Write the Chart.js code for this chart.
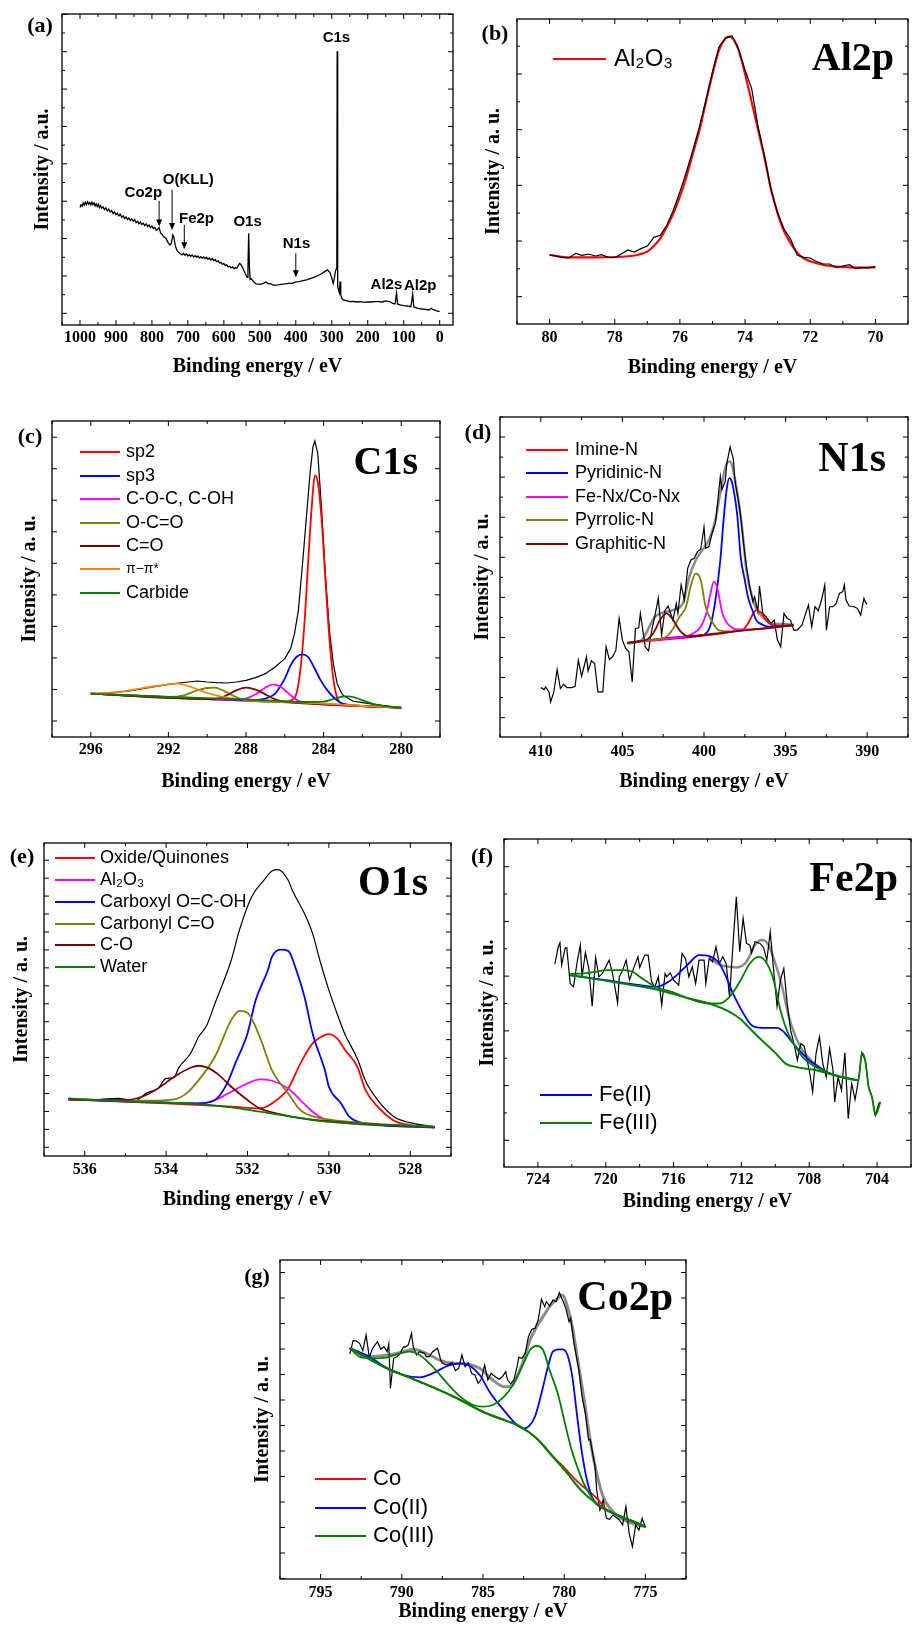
<!DOCTYPE html>
<html>
<head>
<meta charset="utf-8">
<script src="https://cdn.jsdelivr.net/npm/chart.js@4.4.1/dist/chart.umd.min.js"></script>
<style>
  html, body { margin: 0; padding: 0; background: #fff; }
  #page { position: relative; width: 912px; height: 1625px; overflow: hidden; background: #fff; }
  #page canvas { position: absolute; }
</style>
</head>
<body>
<div id="page"></div>
<script>
// ---- data (binding energy in eV, intensity in arbitrary units) ----
const surveyTicks = [0, 100, 200, 300, 400, 500, 600, 700, 800, 900, 1000];
const surveyCounts = [[1000,352],[997,360],[994,356],[991,366],[988,360],[985,368],[982,361],[979,369],[976,362],[973,367],[970,360],[967,368],[964,361],[961,366],[958,357],[955,363],[952,355],[949,362],[946,352],[943,358],[940,350],[936,354],[932,346],[928,351],[924,342],[920,347],[916,339],[912,343],[908,334],[904,339],[900,331],[896,335],[892,327],[888,332],[884,323],[880,327],[876,319],[872,324],[868,316],[864,321],[860,313],[856,318],[852,311],[848,316],[844,307],[840,311],[836,303],[832,309],[828,301],[824,305],[820,298],[816,303],[812,295],[808,300],[804,292],[800,297],[796,289],[792,293],[788,284],[784,287],[780,292],[776,276],[772,272],[768,265],[764,262],[760,258],[755,247],[750,240],[746,245],[742,270],[739,263],[735,237],[730,223],[725,217],[720,213],[716,210],[712,215],[708,209],[704,213],[700,207],[696,211],[692,206],[688,210],[684,204],[680,208],[676,203],[672,207],[668,201],[664,205],[660,200],[656,204],[652,199],[648,203],[644,197],[640,201],[636,195],[632,199],[628,193],[624,196],[620,190],[616,192],[612,186],[608,188],[604,182],[600,184],[596,178],[592,180],[588,174],[584,176],[580,171],[576,174],[572,169],[568,172],[564,170],[560,178],[556,185],[552,180],[548,172],[545,165],[540,153],[535,143],[533,175],[531,275],[529,175],[527,137],[524,139],[520,133],[515,127],[510,123],[500,122],[490,125],[484,129],[478,125],[470,123],[460,119],[450,120],[440,122],[430,123],[420,125],[410,125],[400,129],[390,130],[380,133],[370,135],[360,139],[350,143],[340,147],[330,153],[320,160],[312,165],[305,157],[300,140],[296,125],[293,140],[290,160],[288,167],[286,195],[285,820],[284.2,300],[283.5,130],[283,115],[281,105],[279,97],[277,130],[275,90],[272,80],[268,75],[260,73],[250,70],[240,71],[230,69],[220,70],[210,68],[200,69],[190,69],[180,70],[170,70],[160,69],[150,72],[140,70],[130,65],[124,63],[120,95],[117,63],[110,60],[100,58],[90,57],[80,55],[75,93],[72,54],[60,50],[50,48],[40,47],[30,45],[24,50],[20,47],[10,43],[0,40]];
const surveyPeaks = [
  { text: 'C1s', at: [287, 860] },
  { text: 'O(KLL)', at: [699, 435], arrow: [744, 405, 285] },
  { text: 'Co2p', at: [824, 397], arrow: [780, 372, 295] },
  { text: 'Fe2p', at: [676, 317], arrow: [710, 300, 227] },
  { text: 'O1s', at: [534, 310] },
  { text: 'N1s', at: [398, 243], arrow: [400, 215, 143] },
  { text: 'Al2s', at: [148, 120] },
  { text: 'Al2p', at: [54, 117] }
];

const al2pTicks = [70, 72, 74, 76, 78, 80];
const al2pRaw = [[80,207],[79.8,204],[79.6,200],[79.4,198],[79.2,212],[79,206],[78.8,210],[78.6,204],[78.4,208],[78.2,200],[78,199],[77.8,210],[77.6,222],[77.4,216],[77.2,226],[77,234],[76.8,260],[76.6,266],[76.4,297],[76.2,342],[76,397],[75.8,457],[75.6,522],[75.4,592],[75.2,672],[75,757],[74.8,832],[74.6,857],[74.4,865],[74.2,824],[74,762],[73.8,707],[73.6,592],[73.4,502],[73.2,402],[73,332],[72.8,284],[72.6,254],[72.4,206],[72.2,200],[72,198],[71.8,187],[71.6,180],[71.4,180],[71.2,169],[71,174],[70.8,178],[70.6,166],[70.4,170],[70.2,168],[70,172]];
const al2pAl2O3 = [[80,207],[79.5,200],[79,200],[78.5,200],[78,201],[77.5,204],[77.2,210],[77,217],[76.8,234],[76.6,257],[76.4,292],[76.2,332],[76,382],[75.8,442],[75.6,512],[75.4,582],[75.2,667],[75,750],[74.8,822],[74.6,857],[74.5,862],[74.4,859],[74.2,822],[74,750],[73.8,667],[73.6,582],[73.4,497],[73.2,402],[73,332],[72.8,277],[72.6,242],[72.4,214],[72.2,197],[72,188],[71.6,177],[71.2,172],[70.8,170],[70.4,169],[70,170]];

const c1sTicks = [280, 284, 288, 292, 296];
const c1sEnvelope = [[296,130],[295,132],[294,138],[293,148],[292,158],[291,165],[290.5,168],[290,165],[289.5,163],[289,162],[288.5,165],[288,170],[287.5,178],[287,190],[286.5,210],[286,235],[285.7,265],[285.5,310],[285.3,380],[285.1,510],[284.9,650],[284.7,790],[284.55,870],[284.45,888],[284.3,850],[284.1,680],[283.9,480],[283.7,320],[283.5,220],[283.3,160],[283.1,135],[283,125],[282.5,108],[282,103],[281,95],[280,88]];
const c1sSp2 = [[296,130],[292,120],[288,109],[286,106],[285.6,112],[285.4,130],[285.2,200],[285,330],[284.8,520],[284.6,700],[284.45,785],[284.3,765],[284.1,650],[283.9,465],[283.7,295],[283.5,175],[283.3,118],[283,99],[282,93],[280,88]];
const c1sSp3 = [[296,130],[290,114],[288,110],[287,115],[286.5,130],[286.2,155],[286,175],[285.7,215],[285.4,240],[285.1,248],[284.8,240],[284.5,210],[284.15,170],[283.8,140],[283.5,120],[283.2,106],[283,100],[282,93],[280,88]];
const c1sCOC = [[296,130],[290,114],[288.5,112],[288,115],[287.5,128],[287,148],[286.6,158],[286.2,150],[285.8,130],[285.4,112],[285,104],[284,98],[280,88]];
const c1sOCO = [[296,130],[292,120],[291.2,125],[290.6,138],[290,147],[289.6,148],[289.2,140],[288.7,125],[288.2,113],[287.5,108],[286,104],[280,88]];
const c1sCO = [[296,130],[290,114],[289.4,116],[289,125],[288.5,140],[288,148],[287.5,142],[287,128],[286.5,113],[286,106],[285,101],[280,88]];
const c1sPi = [[296,130],[295,133],[294,140],[293,150],[292,158],[291.5,160],[291,153],[290.5,143],[290,132],[289.5,124],[289,118],[288,112],[286,106],[284,100],[282,93],[280,88]];
const c1sCarbide = [[296,130],[292,120],[288,113],[286,107],[285,105],[284,106],[283.5,114],[283,121],[282.7,122],[282.3,117],[282,110],[281.5,100],[281,94],[280,86]];

const n1sTicks = [390, 395, 400, 405, 410];
const n1sRaw = [[410,148],[409.8,142],[409.7,150],[409.5,135],[409.4,105],[409.2,135],[409,202],[408.8,145],[408.6,158],[408.4,148],[408.1,148],[407.9,152],[407.7,230],[407.5,182],[407.2,240],[407.1,198],[406.9,228],[406.7,220],[406.5,135],[406.2,135],[406,270],[405.8,232],[405.6,240],[405.4,260],[405.2,355],[405,290],[404.8,265],[404.6,255],[404.4,165],[404.2,325],[404,327],[403.9,370],[403.6,270],[403.4,258],[403.2,320],[403,365],[402.8,415],[402.6,305],[402.4,378],[402.2,392],[401.9,350],[401.7,400],[401.6,370],[401.4,455],[401.2,410],[401,505],[400.8,530],[400.6,535],[400.4,555],[400.2,562],[400,628],[399.9,565],[399.7,570],[399.5,610],[399.3,640],[399,780],[398.9,740],[398.7,765],[398.6,820],[398.4,868],[398.2,832],[398.1,765],[397.8,680],[397.6,590],[397.4,510],[397.2,450],[397,405],[396.9,420],[396.7,375],[396.6,452],[396.4,370],[396.2,360],[395.9,340],[395.7,350],[395.5,290],[395.3,270],[395.1,370],[394.9,355],[394.7,350],[394.5,320],[394.3,320],[394,335],[393.6,395],[393.4,330],[393.2,390],[393,378],[392.8,410],[392.6,455],[392.5,320],[392.3,390],[392.1,390],[391.9,400],[391.7,430],[391.5,435],[391.4,455],[391.3,410],[391.1,392],[390.8,390],[390.6,385],[390.4,365],[390.2,415],[390.1,402],[390,398]];
const n1sSum = [[404.7,280],[403.8,292],[403,360],[401.9,380],[401.3,400],[400.9,480],[400.5,530],[400.1,560],[399.7,590],[399.3,650],[398.9,760],[398.6,820],[398.4,825],[398.1,770],[397.7,640],[397.4,500],[397,410],[396.6,370],[396.2,350],[395.8,338],[395,338],[394.5,335]];
const n1sImine = [[404.7,282],[398,317],[397.6,322],[397.3,340],[397,368],[396.8,380],[396.5,372],[396.2,350],[395.9,337],[395.5,333],[394.5,335]];
const n1sPyridinic = [[404.7,282],[401,301],[400,306],[399.6,335],[399.3,410],[399,530],[398.8,650],[398.6,745],[398.45,775],[398.3,765],[398.1,715],[397.95,658],[397.75,538],[397.5,470],[397.3,418],[397,375],[396.8,350],[396.5,338],[396,330],[394.5,335]];
const n1sFeNx = [[404.7,282],[402,296],[401,303],[400.5,315],[400.2,330],[399.86,370],[399.6,430],[399.4,465],[399.2,448],[398.87,370],[398.6,342],[398.36,330],[398,322],[397,322],[395,332],[394.5,335]];
const n1sPyrrolic = [[404.7,282],[403,292],[402.3,300],[401.95,320],[401.5,360],[401.1,390],[400.8,455],[400.5,490],[400.2,470],[399.9,390],[399.5,345],[399.1,320],[398.5,316],[397,322],[394.5,335]];
const n1sGraphitic = [[404.7,282],[404,286],[403.5,292],[403.2,305],[403,320],[402.7,350],[402.3,370],[402,358],[401.7,335],[401.5,320],[401.2,306],[401,302],[400,306],[398,317],[396,327],[394.5,335]];

const o1sTicks = [528, 530, 532, 534, 536];
const o1sEnvelope = [[536.4,170],[536.2,172],[536,168],[535.6,170],[535.2,173],[535,170],[534.8,163],[534.6,178],[534.5,188],[534.2,203],[534,233],[533.8,236],[533.7,263],[533.4,308],[533.2,358],[533,393],[532.8,458],[532.4,588],[532.2,678],[531.9,778],[531.6,828],[531.4,856],[531.25,860],[531,828],[530.9,798],[530.6,728],[530.4,668],[530.2,578],[530,498],[529.8,428],[529.6,364],[529.3,292],[529.1,225],[528.8,168],[528.4,118],[528,100],[527.4,88]];
const o1sOxide = [[536.4,170],[534,158],[532.4,148],[531.7,143],[531.4,158],[531,203],[530.7,278],[530.4,338],[530.1,363],[530,366],[529.8,353],[529.6,318],[529.3,268],[529.1,198],[528.8,148],[528.4,106],[528,93],[527.4,86]];
const o1sAl2O3 = [[536.4,170],[533.2,158],[532.8,168],[532.4,193],[532,218],[531.7,230],[531.4,226],[531,203],[530.7,168],[530.4,133],[530.1,110],[529.5,98],[527.4,86]];
const o1sCarboxyl = [[536.4,170],[534,160],[533.2,158],[532.8,168],[532.5,218],[532.3,278],[532,368],[531.8,468],[531.5,558],[531.4,598],[531.2,620],[531,616],[530.8,558],[530.6,478],[530.4,368],[530.1,258],[530,208],[529.7,158],[529.5,118],[529.1,98],[527.4,86]];
const o1sCarbonyl = [[536.4,170],[534.4,166],[533.8,170],[533.5,188],[533.2,228],[532.8,298],[532.4,408],[532.2,436],[532,430],[531.7,358],[531.4,258],[531,188],[530.7,138],[530.3,116],[529.9,108],[527.4,86]];
const o1sCO = [[536.4,170],[535,168],[534.6,178],[534.2,203],[533.8,238],[533.4,265],[533.2,271],[533,266],[532.7,243],[532.4,208],[532,168],[531.7,143],[531.1,123],[530.3,108],[527.4,86]];
const o1sWater = [[536.4,173],[534.8,163],[533.2,156],[532.4,146],[531.7,133],[531,120],[530.4,108],[529.5,98],[527.4,88]];

const fe2pTicks = [704, 708, 712, 716, 720, 724];
const fe2pRaw = [[723,608],[722.8,660],[722.7,672],[722.6,605],[722.4,655],[722.3,658],[722.1,550],[721.9,540],[721.7,610],[721.5,665],[721.4,570],[721.2,642],[721,595],[720.8,482],[720.6,628],[720.4,570],[720.2,580],[719.8,620],[719.6,580],[719.3,492],[719.2,570],[719,590],[718.8,620],[718.6,560],[718.4,590],[718.1,630],[718,598],[717.7,635],[717.5,635],[717.3,555],[717.1,540],[716.9,570],[716.7,485],[716.5,580],[716.4,570],[716.2,582],[716,560],[715.7,545],[715.5,640],[715.3,625],[715.1,570],[714.9,600],[714.7,550],[714.5,620],[714.2,620],[714.1,550],[713.9,625],[713.7,615],[713.5,660],[713.3,610],[713.1,630],[712.9,610],[712.7,510],[712.5,665],[712.3,810],[712.1,645],[711.9,745],[711.7,670],[711.5,665],[711.4,642],[711.2,675],[710.9,670],[710.7,658],[710.5,620],[710.3,705],[710.1,590],[709.9,482],[709.7,560],[709.5,595],[709.3,490],[709.1,410],[708.9,370],[708.7,320],[708.5,370],[708.3,362],[708,290],[707.8,225],[707.6,340],[707.4,390],[707.2,310],[707,270],[706.8,355],[706.6,290],[706.5,195],[706.3,270],[706.1,230],[705.9,342],[705.7,145],[705.5,250],[705.3,202],[705.1,260],[704.9,342],[704.7,320],[704.5,240],[704.3,210],[704.1,155],[703.9,190],[703.8,195]];
const fe2pSum = [[713.9,632],[713.5,612],[713.1,603],[712.7,600],[712.3,598],[711.7,615],[711.2,665],[710.8,680],[710.4,665],[710,610],[709.6,540],[709.2,450],[708.8,390],[708.4,350],[707.8,315],[707.2,290]];
const fe2pBackground = [[722.1,575],[719,550],[717,532],[715.1,505],[713.9,490],[712.7,465],[712.1,445],[711.5,415],[710.8,380],[710,342],[709.4,310],[708.8,300],[707.6,290],[706.3,272],[705.1,260]];
const fe2pFeII = [[722.1,575],[720,560],[718,545],[717,540],[716.3,555],[715.7,580],[715.1,610],[714.5,635],[713.9,632],[713.3,610],[712.9,570],[712.5,520],[712.1,480],[711.7,445],[711.4,425],[711,418],[710.4,417],[709.9,417],[709.5,405],[709.1,380],[708.6,350],[708,320],[707.4,298],[707,285],[706.3,272],[705.1,260]];
const fe2pFeIII = [[722.1,578],[721,582],[719.8,590],[719,590],[718.4,585],[718,570],[717.4,550],[717,538],[716.1,525],[715.1,505],[713.9,490],[713.3,490],[712.7,510],[712.1,555],[711.5,610],[711,630],[710.6,618],[710.1,560],[709.7,470],[709.2,395],[708.8,360],[708.4,330],[707.8,305],[707.2,290],[706.3,272],[705.1,260],[704.9,342],[704.7,320],[704.5,240],[704.3,210],[704.1,155],[703.8,195]];

const co2pTicks = [775, 780, 785, 790, 795];
const co2pRaw = [[793.2,675],[793.1,695],[793,715],[792.8,714],[792.6,707],[792.4,685],[792.2,732],[792,665],[791.8,692],[791.5,712],[791.3,689],[791.1,697],[790.9,682],[790.8,705],[790.7,572],[790.5,662],[790.3,667],[790.1,677],[789.9,697],[789.8,695],[789.6,702],[789.4,737],[789.3,697],[789.1,672],[788.9,682],[788.6,677],[788.5,667],[788.3,667],[788.1,682],[787.8,692],[787.6,657],[787.5,647],[787.2,642],[786.9,649],[786.7,625],[786.5,632],[786.3,672],[786.1,637],[785.9,649],[785.7,617],[785.5,612],[785.3,587],[785.1,599],[784.9,642],[784.7,597],[784.5,617],[784.2,605],[784,599],[783.8,607],[783.6,622],[783.5,599],[783.3,585],[783.1,597],[782.9,637],[782.8,665],[782.6,662],[782.4,677],[782.2,727],[782,749],[781.8,752],[781.6,777],[781.4,839],[781.2,817],[781.1,832],[780.9,819],[780.7,837],[780.5,832],[780.3,859],[780.1,837],[779.9,812],[779.7,772],[779.6,782],[779.4,707],[779.1,627],[778.9,547],[778.7,497],[778.5,417],[778.4,419],[778.1,337],[778,267],[777.8,207],[777.6,237],[777.4,182],[777.2,179],[777,192],[776.6,177],[776.4,162],[776.2,217],[776,137],[775.8,97],[775.6,162],[775.4,147],[775.2,182],[775,155]];
const co2pSum = [[793.2,692],[792,667],[790.9,672],[789.9,682],[789.3,689],[788.5,677],[787.6,655],[786.8,647],[786,645],[785.2,632],[784.4,597],[783.7,577],[783.3,577],[782.9,607],[782.5,657],[782.1,717],[781.7,757],[781.3,787],[780.9,817],[780.4,842],[780.1,852],[779.8,817],[779.5,757],[779.2,667],[778.8,547],[778.4,417],[778,317],[777.6,247],[776.9,197],[776.1,172],[775,157]];
const co2pBackground = [[793.2,692],[790.9,632],[788.9,592],[786.8,547],[784.8,497],[783.7,477],[782.7,457],[781.7,422],[780.7,367],[779.8,317],[779.2,279],[778.6,249],[778,227],[777.4,207],[776.5,187],[775.7,172],[775,157]];
const co2pCo = [[793.2,692],[790.9,632],[788.9,592],[786.8,547],[784.8,497],[783.7,477],[782.7,457],[781.7,422],[780.7,369],[779.8,324],[779.2,293],[778.6,268],[778,243],[777.4,209],[776.5,187],[775.7,172],[775,157]];
const co2pCoII = [[793.2,692],[792,667],[790.9,632],[789.9,612],[788.9,605],[788.1,617],[787.2,639],[786.4,647],[785.8,639],[785.2,612],[784.6,562],[783.9,517],[783.3,482],[782.9,462],[782.5,452],[782.2,457],[781.8,487],[781.4,557],[781,637],[780.7,682],[780.3,689],[780.1,689],[779.8,672],[779.5,607],[779.2,487],[778.9,377],[778.6,297],[778.2,237],[777.8,217],[777.4,207],[776.5,187],[775,157]];
const co2pCoIII = [[793.2,692],[792.6,667],[791.8,662],[790.9,665],[790.1,677],[789.5,682],[788.9,672],[788.1,637],[787.2,587],[786.4,547],[785.6,522],[785,517],[784.4,522],[783.7,547],[783.1,587],[782.5,647],[782.1,687],[781.7,699],[781.3,687],[780.9,627],[780.4,557],[780,477],[779.6,397],[779.2,337],[778.8,287],[778.4,252],[778,227],[777.4,207],[776.5,187],[775,157]];

// ---- drawing ----
const SERIF = '"Liberation Serif", "Times New Roman", serif';
const SANS = '"Liberation Sans", Arial, sans-serif';
const RED = '#ff0000', BLUE = '#0000ff', MAGENTA = '#ff00ff', OLIVE = '#808000',
      WINE = '#800000', ORANGE = '#ff8000', GREEN = '#008000', GRAY = '#8c8c8c', BLACK = '#000000';

function raw(label, points, width, smooth) { return { label, points, color: BLACK, width: width || 1, smooth: !!smooth }; }
function fit(label, points, color, legend, extra) {
  return Object.assign({ label, points, color, width: 1.8, smooth: true, legend }, extra || {});
}

const panels = [
  {
    tag: '(a)', tagAt: [40, 26], canvas: [0, 0, 456, 390], box: [62, 14, 453, 325],
    xRange: [-37, 1050], xLabels: surveyTicks, xStep: 100, yRange: [0, 932], yTicks: [35, 112, true],
    yTitle: 'Intensity / a.u.', yTitleX: 43, xTitleY: 367, tickLabelY: 338,
    series: [raw('survey', surveyCounts, 1.3)], marks: surveyPeaks
  },
  {
    tag: '(b)', tagAt: [495, 34], canvas: [456, 0, 456, 390], box: [517, 19, 908, 324],
    xRange: [69, 81], xLabels: al2pTicks, xStep: 2, yRange: [0, 915], yTicks: [82, 167, true],
    yTitle: 'Intensity / a. u.', yTitleX: 494, xTitleY: 368, tickLabelY: 338,
    title: { text: 'Al2p', at: [894, 70], size: 40 },
    legend: { x1: 553, x2: 606, tx: 614, rows: [59], size: 24 },
    series: [fit('Al\u2082O\u2083', al2pAl2O3, RED, true, { width: 2.2 }), raw('Al2p', al2pRaw, 1.2)]
  },
  {
    tag: '(c)', tagAt: [30, 437], canvas: [0, 395, 456, 405], box: [52, 421, 440, 737],
    xRange: [278, 298], xLabels: c1sTicks, xStep: 4, yRange: [0, 948], yTicks: [48, 94.6, false],
    yTitle: 'Intensity / a. u.', yTitleX: 30, xTitleY: 782, tickLabelY: 750,
    title: { text: 'C1s', at: [418, 474], size: 40 },
    legend: { x1: 80, x2: 120, tx: 126, rows: [452, 476, 499, 523, 546, 569, 593], size: 18 },
    series: [
      raw('C1s', c1sEnvelope, 1.2),
      fit('sp2', c1sSp2, RED, true),
      fit('sp3', c1sSp3, BLUE, true),
      fit('C-O-C, C-OH', c1sCOC, MAGENTA, true),
      fit('O-C=O', c1sOCO, OLIVE, true),
      fit('C=O', c1sCO, WINE, true),
      fit('\u03c0\u2212\u03c0*', c1sPi, ORANGE, true, { legendSize: 14 }),
      fit('Carbide', c1sCarbide, GREEN, true)
    ]
  },
  {
    tag: '(d)', tagAt: [478, 433], canvas: [456, 395, 456, 405], box: [500, 417, 908, 737],
    xRange: [387.5, 412.5], xLabels: n1sTicks, xStep: 5, yRange: [0, 958], yTicks: [58, 120, true],
    yTitle: 'Intensity / a. u.', yTitleX: 483, xTitleY: 782, tickLabelY: 752,
    title: { text: 'N1s', at: [886, 471], size: 42 },
    legend: { x1: 526, x2: 568, tx: 575, rows: [450, 473, 497, 520, 544], size: 18 },
    series: [
      fit('sum', n1sSum, GRAY, false, { width: 2.5 }),
      raw('N1s', n1sRaw, 1.2),
      fit('Imine-N', n1sImine, RED, true),
      fit('Pyridinic-N', n1sPyridinic, BLUE, true),
      fit('Fe-Nx/Co-Nx', n1sFeNx, MAGENTA, true),
      fit('Pyrrolic-N', n1sPyrrolic, OLIVE, true),
      fit('Graphitic-N', n1sGraphitic, WINE, true)
    ]
  },
  {
    tag: '(e)', tagAt: [22, 857], canvas: [0, 825, 456, 395], box: [44, 843, 451, 1156],
    xRange: [527, 537], xLabels: o1sTicks, xStep: 2, yRange: [0, 940], yTicks: [26, 53.9, false],
    yTitle: 'Intensity / a. u.', yTitleX: 22, xTitleY: 1200, tickLabelY: 1170,
    title: { text: 'O1s', at: [428, 895], size: 42 },
    legend: { x1: 55, x2: 95, tx: 100, rows: [858, 880, 902, 924, 945, 967], size: 18 },
    series: [
      raw('O1s', o1sEnvelope, 1.2, true),
      fit('Oxide/Quinones', o1sOxide, RED, true),
      fit('Al\u2082O\u2083', o1sAl2O3, MAGENTA, true),
      fit('Carboxyl O=C-OH', o1sCarboxyl, BLUE, true),
      fit('Carbonyl C=O', o1sCarbonyl, OLIVE, true),
      fit('C-O', o1sCO, WINE, true),
      fit('Water', o1sWater, GREEN, true)
    ]
  },
  {
    tag: '(f)', tagAt: [482, 857], canvas: [456, 825, 456, 395], box: [504, 839, 911, 1167],
    xRange: [702, 726], xLabels: fe2pTicks, xStep: 4, yRange: [0, 983], yTicks: [80, 164, true],
    yTitle: 'Intensity / a. u.', yTitleX: 488, xTitleY: 1202, tickLabelY: 1180,
    title: { text: 'Fe2p', at: [898, 891], size: 42 },
    legend: { x1: 540, x2: 592, tx: 599, rows: [1095, 1123], size: 22 },
    series: [
      fit('sum', fe2pSum, GRAY, false, { width: 2.5 }),
      raw('Fe2p', fe2pRaw, 1.2),
      fit('Fe(II)', fe2pFeII, BLUE, true),
      fit('Fe(III)', fe2pFeIII, GREEN, true),
      fit('background', fe2pBackground, GREEN, false, { width: 2 })
    ]
  },
  {
    tag: '(g)', tagAt: [257, 1277], canvas: [220, 1240, 480, 385], box: [280, 1260, 686, 1579],
    xRange: [772.5, 797.5], xLabels: co2pTicks, xStep: 5, yRange: [0, 957], yTicks: [78, 76.5, false],
    yTitle: 'Intensity / a. u.', yTitleX: 263, xTitleY: 1612, tickLabelY: 1593,
    title: { text: 'Co2p', at: [673, 1310], size: 42 },
    legend: { x1: 315, x2: 366, tx: 373, rows: [1479, 1508, 1536], size: 22 },
    series: [
      fit('sum', co2pSum, GRAY, false, { width: 3 }),
      raw('Co2p', co2pRaw, 1.2),
      fit('Co', co2pCo, RED, true),
      fit('Co(II)', co2pCoII, BLUE, true),
      fit('Co(III)', co2pCoIII, GREEN, true),
      fit('background', co2pBackground, GREEN, false, { width: 2.2 })
    ]
  }
];

function steps(lo, hi, first, step) {
  const out = [];
  let v = first;
  while (v - step >= lo - 1e-9) v -= step;
  while (v < lo - 1e-9) v += step;
  for (; v <= hi + 1e-9; v += step) out.push(v);
  return out;
}

function decor(p) {
  return {
    id: 'decor' + p.tag.replace(/\W/g, ''),
    afterDraw(chart) {
      const ctx = chart.ctx, a = chart.chartArea;
      const xs = chart.scales.x, ys = chart.scales.y;
      const ox = p.canvas[0], oy = p.canvas[1];
      ctx.save();
      ctx.strokeStyle = '#000';
      ctx.lineWidth = 1;
      ctx.beginPath();
      const tickX = (v, len) => {
        const px = xs.getPixelForValue(v);
        ctx.moveTo(px, a.bottom); ctx.lineTo(px, a.bottom - len);
        ctx.moveTo(px, a.top); ctx.lineTo(px, a.top + len);
      };
      const tickY = (v, len) => {
        const py = ys.getPixelForValue(v);
        ctx.moveTo(a.left, py); ctx.lineTo(a.left + len, py);
        ctx.moveTo(a.right, py); ctx.lineTo(a.right - len, py);
      };
      steps(xs.min, xs.max, p.xLabels[0], p.xStep).forEach(v => tickX(v, 5));
      steps(xs.min, xs.max, p.xLabels[0] + p.xStep / 2, p.xStep).forEach(v => tickX(v, 3));
      const [yFirst, yStep, yMinor] = p.yTicks;
      steps(ys.min, ys.max, yFirst, yStep).forEach(v => tickY(v, 5));
      if (yMinor) steps(ys.min, ys.max, yFirst + yStep / 2, yStep).forEach(v => tickY(v, 3));
      ctx.stroke();
      ctx.lineWidth = 1.3;
      ctx.strokeRect(a.left, a.top, a.right - a.left, a.bottom - a.top);

      ctx.fillStyle = '#000';
      ctx.font = 'bold 22px ' + SERIF;
      ctx.textAlign = 'center';
      ctx.textBaseline = 'middle';
      ctx.fillText(p.tag, p.tagAt[0] - ox, p.tagAt[1] - oy);

      if (p.title) {
        ctx.font = 'bold ' + p.title.size + 'px ' + SERIF;
        ctx.textAlign = 'right';
        ctx.textBaseline = 'alphabetic';
        ctx.fillText(p.title.text, p.title.at[0] - ox, p.title.at[1] - oy);
      }

      if (p.legend) {
        const L = p.legend;
        chart.data.datasets.filter(d => d.inLegend).forEach((d, i) => {
          const y = L.rows[i] - oy;
          ctx.strokeStyle = d.borderColor;
          ctx.lineWidth = 2;
          ctx.beginPath();
          ctx.moveTo(L.x1 - ox, y);
          ctx.lineTo(L.x2 - ox, y);
          ctx.stroke();
          ctx.fillStyle = '#000';
          ctx.font = (d.legendSize || L.size) + 'px ' + SANS;
          ctx.textAlign = 'left';
          ctx.textBaseline = 'middle';
          ctx.fillText(d.label, L.tx - ox, y);
        });
      }

      if (p.marks) {
        ctx.font = 'bold 15px ' + SANS;
        ctx.textAlign = 'center';
        ctx.textBaseline = 'middle';
        ctx.strokeStyle = '#000';
        ctx.fillStyle = '#000';
        ctx.lineWidth = 1;
        p.marks.forEach(m => {
          ctx.fillText(m.text, xs.getPixelForValue(m.at[0]), ys.getPixelForValue(m.at[1]));
          if (!m.arrow) return;
          const px = xs.getPixelForValue(m.arrow[0]);
          const y1 = ys.getPixelForValue(m.arrow[1]);
          const y2 = ys.getPixelForValue(m.arrow[2]);
          ctx.beginPath();
          ctx.moveTo(px, y1);
          ctx.lineTo(px, y2 - 5);
          ctx.stroke();
          ctx.beginPath();
          ctx.moveTo(px - 3, y2 - 7);
          ctx.lineTo(px + 3, y2 - 7);
          ctx.lineTo(px, y2);
          ctx.closePath();
          ctx.fill();
        });
      }
      ctx.restore();
    }
  };
}

function drawPanel(p) {
  const [cx, cy, cw, ch] = p.canvas;
  const [bl, bt, br, bb] = p.box;
  const cv = document.createElement('canvas');
  cv.width = cw;
  cv.height = ch;
  cv.style.left = cx + 'px';
  cv.style.top = cy + 'px';
  cv.style.width = cw + 'px';
  cv.style.height = ch + 'px';
  document.getElementById('page').appendChild(cv);

  const yw = bl - cx, padTop = bt - cy, padRight = cx + cw - br, xh = cy + ch - bb;
  const n = p.series.length;

  new Chart(cv.getContext('2d'), {
    type: 'line',
    data: {
      datasets: p.series.map((s, i) => ({
        label: s.label,
        data: s.points.map(q => ({ x: q[0], y: q[1] })),
        borderColor: s.color,
        borderWidth: s.width,
        pointRadius: 0,
        fill: false,
        tension: 0,
        cubicInterpolationMode: s.smooth ? 'monotone' : 'default',
        order: n - i,
        inLegend: !!s.legend,
        legendSize: s.legendSize
      }))
    },
    options: {
      responsive: false,
      animation: false,
      devicePixelRatio: 1,
      events: [],
      layout: { padding: { left: 0, top: padTop, right: padRight, bottom: 0 } },
      plugins: { legend: { display: false }, tooltip: { enabled: false } },
      scales: {
        x: {
          type: 'linear',
          reverse: true,
          min: p.xRange[0],
          max: p.xRange[1],
          grid: { display: false, drawTicks: false },
          border: { display: false },
          ticks: {
            color: '#000',
            font: { family: SERIF, weight: 'bold', size: 16 },
            padding: p.tickLabelY - p.box[3] - 9.6,
            maxRotation: 0,
            autoSkip: false,
            callback: v => String(v)
          },
          afterBuildTicks: s => { s.ticks = p.xLabels.map(v => ({ value: v })); },
          afterFit: s => { s.height = xh; s.paddingLeft = 0; s.paddingRight = 0; },
          title: {
            display: true,
            text: 'Binding energy / eV',
            color: '#000',
            font: { family: SERIF, weight: 'bold', size: 20 },
            padding: { top: 0, bottom: cy + ch - p.xTitleY - 12 }
          }
        },
        y: {
          min: p.yRange[0],
          max: p.yRange[1],
          grid: { display: false, drawTicks: false },
          border: { display: false },
          ticks: { display: false },
          afterFit: s => { s.width = yw; },
          title: {
            display: true,
            text: p.yTitle,
            color: '#000',
            font: { family: SERIF, weight: 'bold', size: 20 },
            padding: { top: p.yTitleX - cx - 12, bottom: 0 }
          }
        }
      }
    },
    plugins: [decor(p)]
  });
}

panels.forEach(drawPanel);
</script>
</body>
</html>
